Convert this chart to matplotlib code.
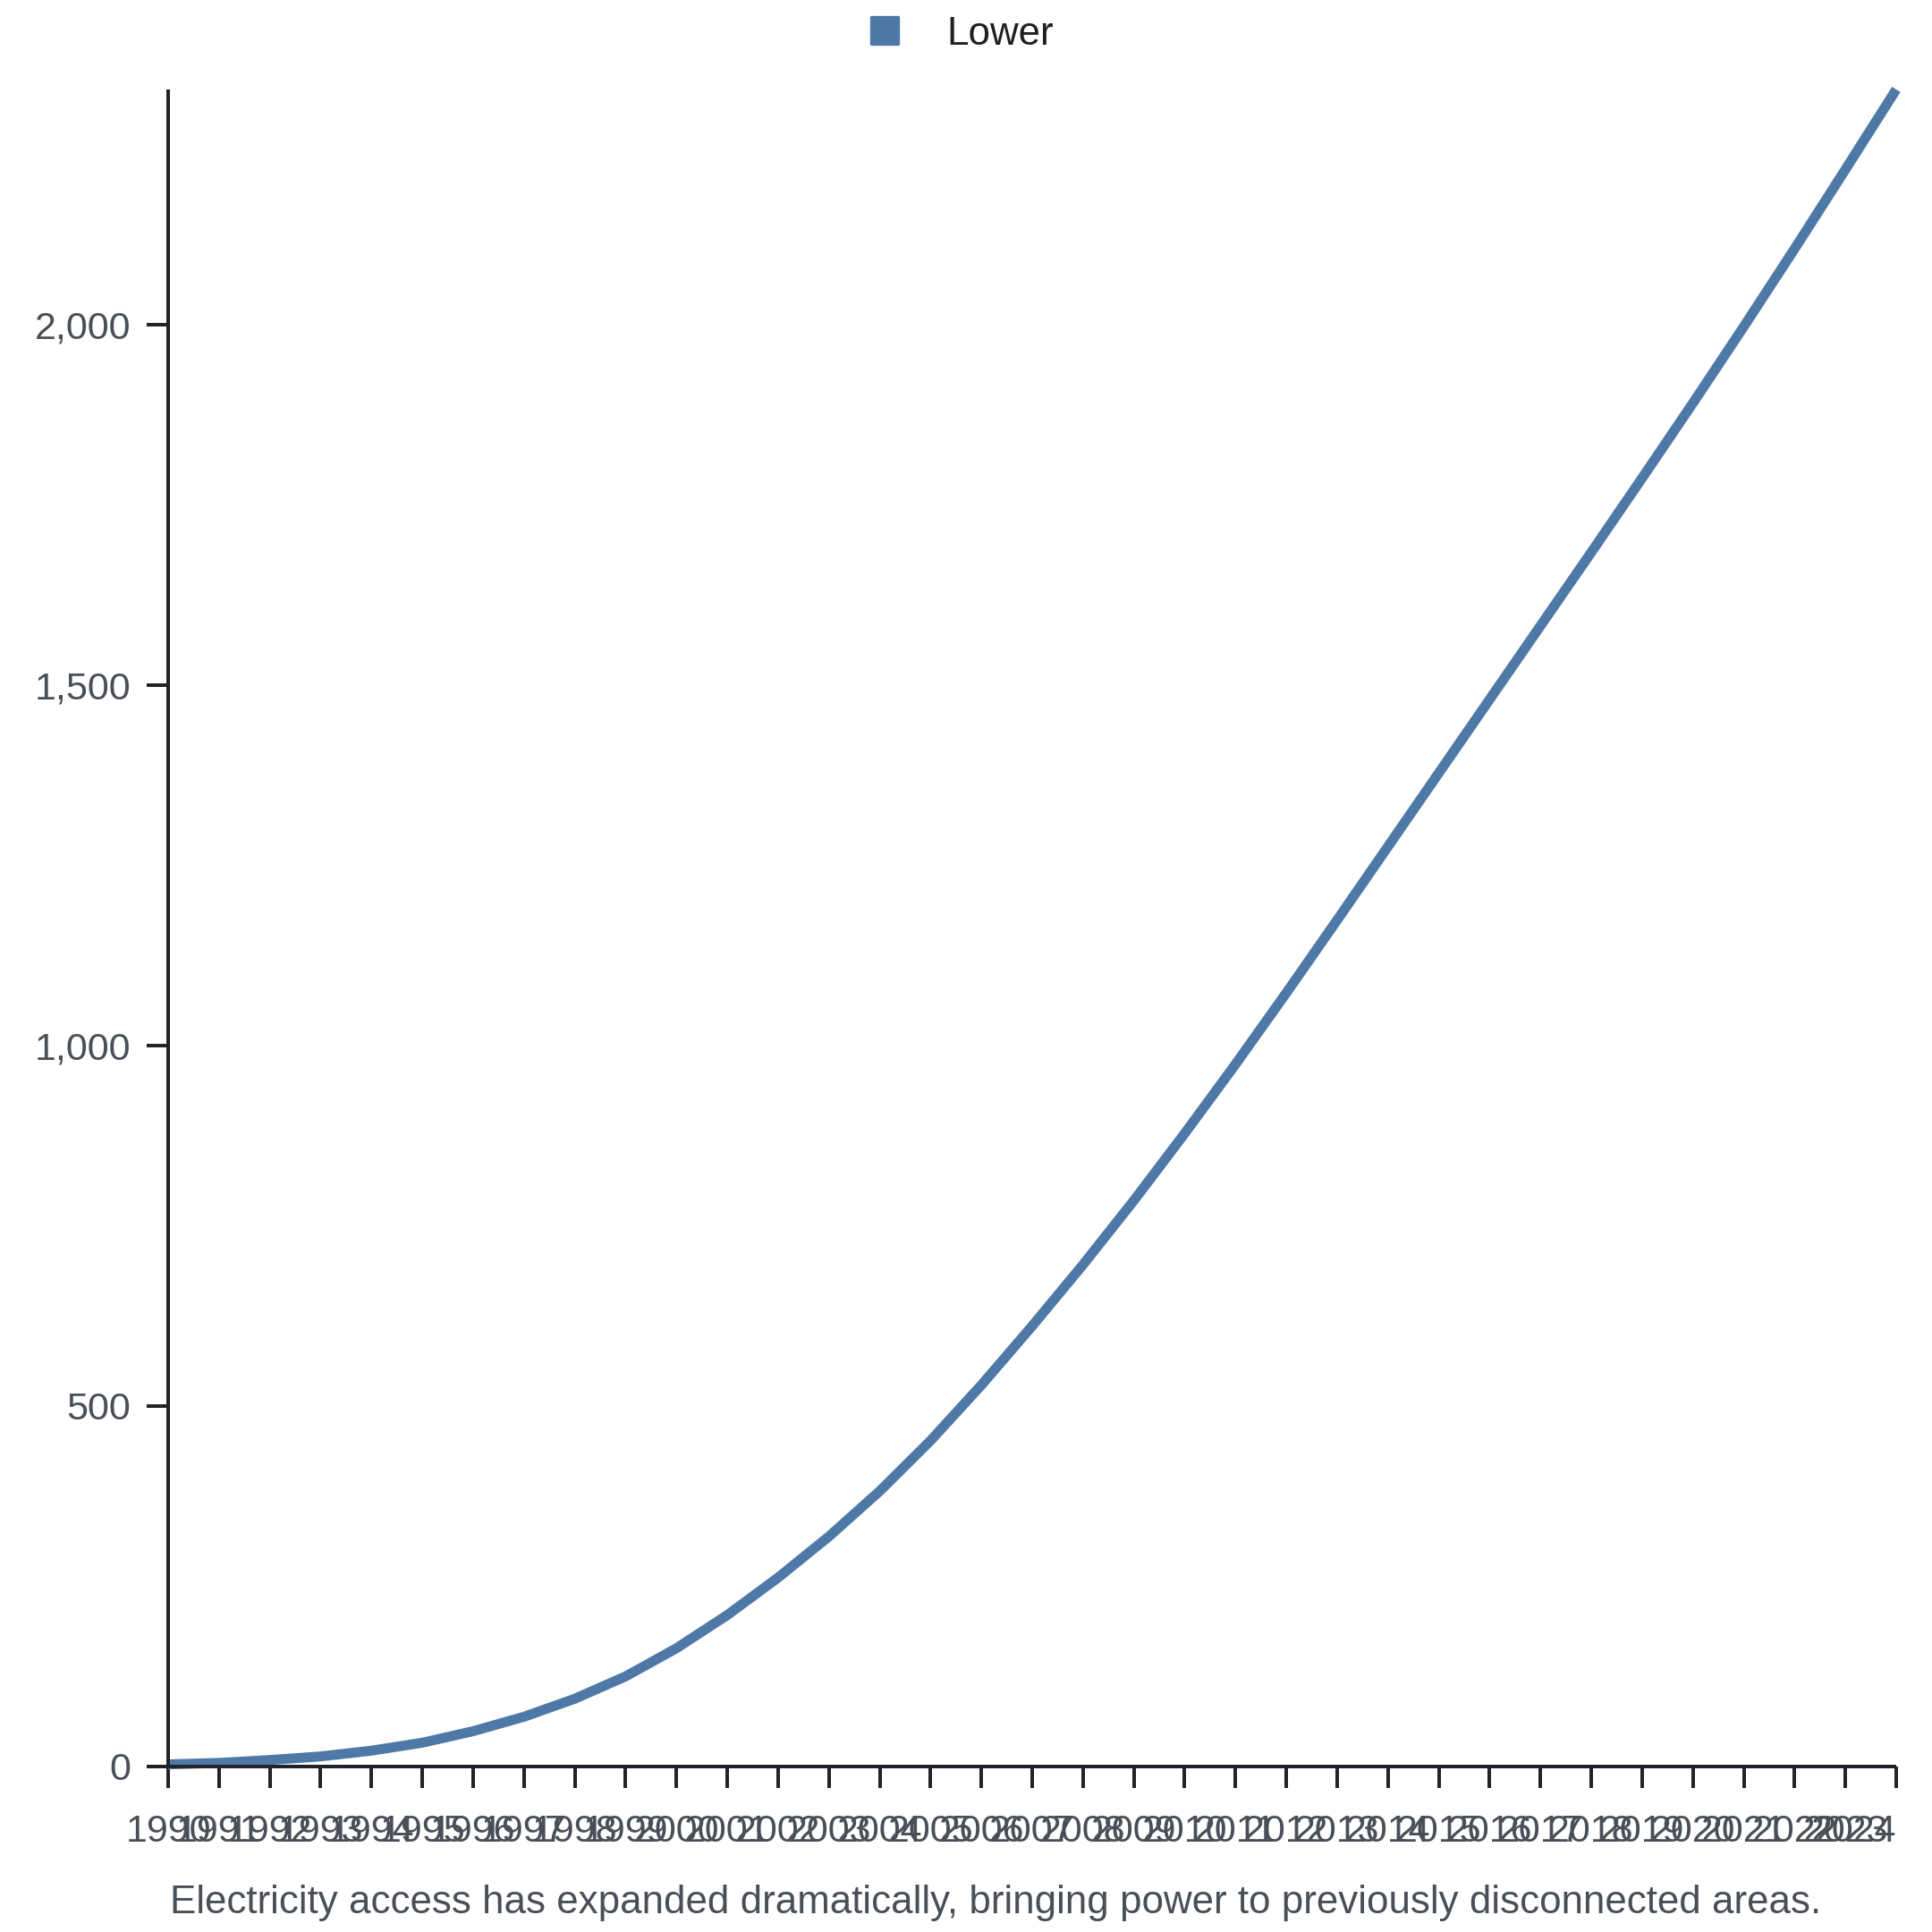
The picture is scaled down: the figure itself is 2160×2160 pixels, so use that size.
import matplotlib
matplotlib.use("Agg")
import matplotlib.pyplot as plt
from matplotlib.lines import Line2D
from matplotlib.markers import MarkerStyle
from matplotlib.ticker import FuncFormatter

years = list(range(1990, 2025))
lower = [3, 5, 9, 14, 22, 33, 49, 69, 94, 125, 164, 210, 262, 319, 382, 452,
         529, 611, 696, 785, 878, 974, 1073, 1174, 1276, 1378, 1480, 1582,
         1684, 1787, 1891, 1997, 2105, 2215, 2326]
series_name = "Lower"
caption = ("Electricity access has expanded dramatically, bringing power to "
           "previously disconnected areas.")
yticks = [0, 500, 1000, 1500, 2000]

LINE_COLOR = "#4e79a7"
AXIS_COLOR = "#222328"
TEXT_GRAY = "#4a4f57"

plt.rcParams['font.family'] = ['Liberation Sans', 'DejaVu Sans']

W = H = 2160
fig = plt.figure(figsize=(10.8, 10.8), dpi=200)
L, R, T, B = 188 / W, 2120 / W, 1 - 100 / H, 1 - 1975 / H
ax = fig.add_axes([L, B, R - L, T - B])

ax.plot(years, lower, color=LINE_COLOR, linewidth=4.0, clip_on=False,
        solid_joinstyle='round', solid_capstyle='butt', zorder=2)

ax.set_xlim(years[0], years[-1])
ax.set_ylim(0, max(lower))

ax.set_xticks(years)
ax.set_xticklabels([str(y) for y in years])
ax.set_yticks(yticks)
ax.yaxis.set_major_formatter(FuncFormatter(lambda v, p: f"{int(v):,}"))

for s in ['top', 'right']:
    ax.spines[s].set_visible(False)
for s in ['left', 'bottom']:
    ax.spines[s].set_color(AXIS_COLOR)
    ax.spines[s].set_linewidth(1.44)
    ax.spines[s].set_zorder(3)
    ax.spines[s].set_capstyle('butt')

ax.tick_params(axis='both', colors=AXIS_COLOR, width=1.44, length=8.6,
               labelsize=15.5, labelcolor=TEXT_GRAY)
ax.tick_params(axis='x', pad=10.6)
ax.tick_params(axis='y', pad=6.5)

# last tick label kept inside the figure
xt = ax.get_xticklabels()
xt[-1].set_horizontalalignment('right')

handle = Line2D([], [], linestyle='none',
                marker=MarkerStyle('s', joinstyle='round'),
                markersize=11.0, markerfacecolor=LINE_COLOR,
                markeredgecolor=LINE_COLOR, markeredgewidth=1.2)
leg = fig.legend([handle], [series_name], loc='center left',
                 bbox_to_anchor=(973 / W, 1 - 38 / H), frameon=False,
                 borderpad=0, borderaxespad=0, handlelength=0.75,
                 handletextpad=1.2, prop={'size': 15.8})
for t in leg.get_texts():
    t.set_color("#1f2023")

cap = fig.text(190 / W, 1 - 2139 / H, caption, ha='left', va='baseline',
               fontsize=14.2, color=TEXT_GRAY)
# fit caption to the reference width
fig.canvas.draw()
wpx = cap.get_window_extent().width
target = 2032 - 190
cap.set_fontsize(14.2 * target / wpx)

fig.savefig("out.png", dpi=200, facecolor='white')
